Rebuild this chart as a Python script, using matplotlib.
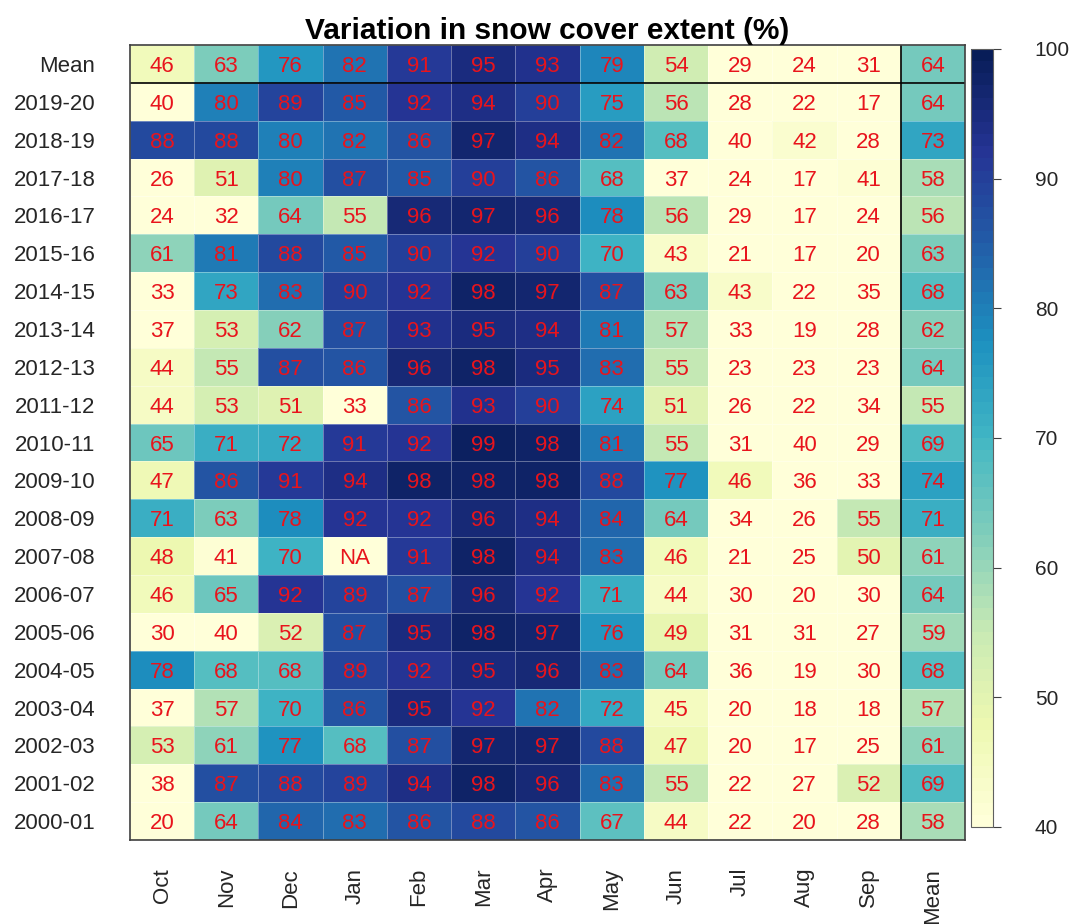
import matplotlib.pyplot as plt
import numpy as np
from matplotlib.colors import ListedColormap

plt.rcParams["font.family"] = ["Liberation Sans", "DejaVu Sans"]

months = ["Oct", "Nov", "Dec", "Jan", "Feb", "Mar", "Apr", "May", "Jun", "Jul", "Aug", "Sep", "Mean"]
rows = ["Mean", "2019-20", "2018-19", "2017-18", "2016-17", "2015-16", "2014-15", "2013-14",
        "2012-13", "2011-12", "2010-11", "2009-10", "2008-09", "2007-08", "2006-07", "2005-06",
        "2004-05", "2003-04", "2002-03", "2001-02", "2000-01"]

NA = np.nan
mean_row = [46, 63, 76, 82, 91, 95, 93, 79, 54, 29, 24, 31, 64]
y2019 = [40, 80, 89, 85, 92, 94, 90, 75, 56, 28, 22, 17, 64]
y2018 = [88, 88, 80, 82, 86, 97, 94, 82, 68, 40, 42, 28, 73]
y2017 = [26, 51, 80, 87, 85, 90, 86, 68, 37, 24, 17, 41, 58]
y2016 = [24, 32, 64, 55, 96, 97, 96, 78, 56, 29, 17, 24, 56]
y2015 = [61, 81, 88, 85, 90, 92, 90, 70, 43, 21, 17, 20, 63]
y2014 = [33, 73, 83, 90, 92, 98, 97, 87, 63, 43, 22, 35, 68]
y2013 = [37, 53, 62, 87, 93, 95, 94, 81, 57, 33, 19, 28, 62]
y2012 = [44, 55, 87, 86, 96, 98, 95, 83, 55, 23, 23, 23, 64]
y2011 = [44, 53, 51, 33, 86, 93, 90, 74, 51, 26, 22, 34, 55]
y2010 = [65, 71, 72, 91, 92, 99, 98, 81, 55, 31, 40, 29, 69]
y2009 = [47, 86, 91, 94, 98, 98, 98, 88, 77, 46, 36, 33, 74]
y2008 = [71, 63, 78, 92, 92, 96, 94, 84, 64, 34, 26, 55, 71]
y2007 = [48, 41, 70, NA, 91, 98, 94, 83, 46, 21, 25, 50, 61]
y2006 = [46, 65, 92, 89, 87, 96, 92, 71, 44, 30, 20, 30, 64]
y2005 = [30, 40, 52, 87, 95, 98, 97, 76, 49, 31, 31, 27, 59]
y2004 = [78, 68, 68, 89, 92, 95, 96, 83, 64, 36, 19, 30, 68]
y2003 = [37, 57, 70, 86, 95, 92, 82, 72, 45, 20, 18, 18, 57]
y2002 = [53, 61, 77, 68, 87, 97, 97, 88, 47, 20, 17, 25, 61]
y2001 = [38, 87, 88, 89, 94, 98, 96, 83, 55, 22, 27, 52, 69]
y2000 = [20, 64, 84, 83, 86, 88, 86, 67, 44, 22, 20, 28, 58]

data = np.array([mean_row, y2019, y2018, y2017, y2016, y2015, y2014, y2013, y2012, y2011,
                 y2010, y2009, y2008, y2007, y2006, y2005, y2004, y2003, y2002, y2001, y2000],
                dtype=float)

cmap = ListedColormap(plt.get_cmap("YlGnBu")(np.linspace(0, 1, 64)))
cmap.set_bad(cmap(0))
cmap.set_under(cmap(0))

fig = plt.figure(figsize=(10.7, 9.24), dpi=100)
ax = fig.add_axes([0.1215, 0.0909, 0.7804, 0.8604])
cax = fig.add_axes([0.9075, 0.105, 0.0206, 0.842])

nrow, ncol = data.shape
mesh = ax.pcolormesh(np.ma.masked_invalid(data), cmap=cmap, vmin=40, vmax=100,
                     edgecolors=(1, 1, 1, 0.35), linewidth=0.6)
ax.set_xlim(0, ncol)
ax.set_ylim(nrow, 0)

for i in range(nrow):
    for j in range(ncol):
        v = data[i, j]
        txt = "NA" if np.isnan(v) else f"{v:.0f}"
        ax.text(j + 0.5, i + 0.5, txt, ha="center", va="center_baseline",
                color="#e8141c", fontsize=16)

# separators for the mean row and mean column
ax.axhline(1, color="black", linewidth=1.2)
ax.axvline(ncol - 1, color="black", linewidth=1.2)

ax.set_xticks(np.arange(ncol) + 0.5)
ax.set_xticklabels(months, rotation=90, fontsize=16, color="#262626")
ax.set_yticks(np.arange(nrow) + 0.5)
ax.set_yticklabels(rows, fontsize=16, color="#262626", va="center_baseline")
ax.tick_params(length=0, pad=20, axis="x")
ax.tick_params(length=0, pad=25, axis="y")
for s in ax.spines.values():
    s.set_color("#404040")
    s.set_linewidth(1.2)

ax.set_title("Variation in snow cover extent (%)", fontsize=21.5, fontweight="bold", pad=3)

cb = fig.colorbar(mesh, cax=cax, ticks=[40, 50, 60, 70, 80, 90, 100])
cb.outline.set_edgecolor("#606060")
cb.ax.tick_params(labelsize=15, labelcolor="#262626", length=6, width=0.8,
                  color="#404040", pad=24)

fig.savefig("out.png", dpi=100)
